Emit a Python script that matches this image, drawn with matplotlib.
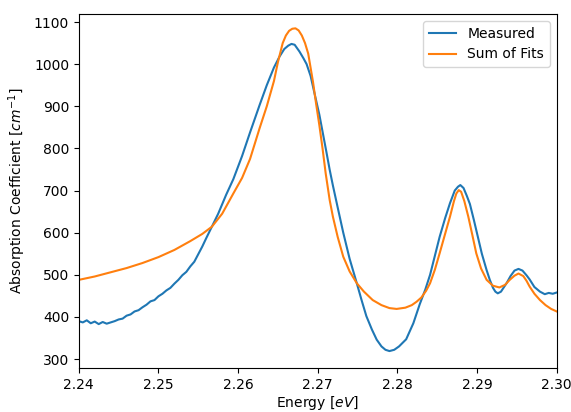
import matplotlib
matplotlib.use("Agg")
import matplotlib.pyplot as plt

# Measured spectrum
meas_x = [2.2400, 2.2405, 2.2410, 2.2415, 2.2420, 2.2425, 2.2430, 2.2435, 2.2440, 2.2445,
          2.2450, 2.2455, 2.2460, 2.2465, 2.2470, 2.2475, 2.2480, 2.2485, 2.2490, 2.2495,
          2.2500, 2.2505, 2.2510, 2.2515, 2.2520, 2.2525, 2.2530, 2.2535, 2.2540, 2.2545,
          2.2550, 2.2555, 2.2560, 2.2567, 2.2575, 2.2585, 2.2594, 2.2605, 2.2615, 2.2627,
          2.2636, 2.2645, 2.2652, 2.2658, 2.2663, 2.2667, 2.2671, 2.2677, 2.2682, 2.2686,
          2.2691, 2.2696, 2.2702, 2.2707, 2.2711, 2.2715, 2.2719, 2.2725, 2.2732, 2.2740,
          2.2749, 2.2755, 2.2761, 2.2768, 2.2774, 2.2780, 2.2785, 2.2790, 2.2796, 2.2802,
          2.2811, 2.2820, 2.2828, 2.2835, 2.2841, 2.2847, 2.2853, 2.2860, 2.2866, 2.2872,
          2.2876, 2.2879, 2.2883, 2.2887, 2.2891, 2.2896, 2.2901, 2.2906, 2.2912, 2.2916,
          2.2920, 2.2923, 2.2926, 2.2930, 2.2937, 2.2942, 2.2947, 2.2952, 2.2957, 2.2962,
          2.2966, 2.2972, 2.2979, 2.2985, 2.2990, 2.2995, 2.3000]
meas_y = [390, 387, 392, 385, 389, 383, 388, 384, 387, 390,
          394, 396, 403, 406, 413, 416, 423, 429, 437, 440,
          449, 455, 463, 469, 479, 488, 499, 507, 520, 531,
          549, 567, 587, 614, 645, 690, 727, 782, 838, 903,
          950, 992, 1018, 1036, 1044, 1048, 1046, 1030, 1014, 1000,
          972, 930, 880, 830, 790, 749, 712, 660, 600, 538,
          480, 440, 402, 370, 346, 330, 322, 319, 322, 330,
          347, 385, 430, 465, 500, 545, 590, 635, 670, 700,
          709, 713, 706, 688, 668, 630, 590, 550, 511, 488,
          469, 460, 456, 460, 480, 497, 510, 514, 510, 499,
          489, 471, 460, 454, 457, 455, 458]

# Sum of fits
fit_x = [2.2400, 2.2420, 2.2440, 2.2460, 2.2480, 2.2500, 2.2520, 2.2540, 2.2555, 2.2567,
         2.2580, 2.2594, 2.2605, 2.2615, 2.2627, 2.2636, 2.2645, 2.2650, 2.2656, 2.2660,
         2.2664, 2.2668, 2.2672, 2.2676, 2.2680, 2.2684, 2.2688, 2.2694, 2.2698, 2.2702,
         2.2706, 2.2710, 2.2715, 2.2719, 2.2725, 2.2732, 2.2740, 2.2749, 2.2758, 2.2769,
         2.2780, 2.2790, 2.2799, 2.2810, 2.2818, 2.2824, 2.2830, 2.2836, 2.2841, 2.2847,
         2.2853, 2.2860, 2.2866, 2.2871, 2.2874, 2.2877, 2.2880, 2.2884, 2.2889, 2.2894,
         2.2899, 2.2905, 2.2912, 2.2920, 2.2928, 2.2935, 2.2941, 2.2947, 2.2952, 2.2958,
         2.2962, 2.2966, 2.2972, 2.2979, 2.2986, 2.2993, 2.3000]
fit_y = [488, 496, 506, 516, 528, 542, 559, 580, 597, 614,
         645, 693, 730, 775, 848, 900, 960, 1005, 1050, 1068,
         1079, 1084, 1085, 1080, 1068, 1050, 1025, 958, 905, 855,
         800, 740, 677, 638, 590, 543, 508, 480, 460, 440,
         428, 421, 419, 422, 428, 436, 446, 462, 480, 512,
         551, 598, 638, 675, 693, 701, 697, 675, 638, 595,
         551, 515, 488, 474, 470, 476, 488, 498, 503, 497,
         486, 472, 455, 440, 428, 419, 413]

fig = plt.figure(figsize=(5.71, 4.12), dpi=100)
ax = fig.add_axes([0.138, 0.107, 0.837, 0.859])
ax.plot(meas_x, meas_y, color="#1f77b4", lw=1.5, label="Measured")
ax.plot(fit_x, fit_y, color="#ff7f0e", lw=1.5, label="Sum of Fits")
ax.set_xlim(2.24, 2.30)
ax.set_ylim(279, 1119)
ax.set_xlabel("Energy [$eV$]", labelpad=2)
ax.set_ylabel("Absorption Coefficient [$cm^{-1}$]")
ax.legend(loc="upper right")
fig.savefig("out.png", dpi=100)
